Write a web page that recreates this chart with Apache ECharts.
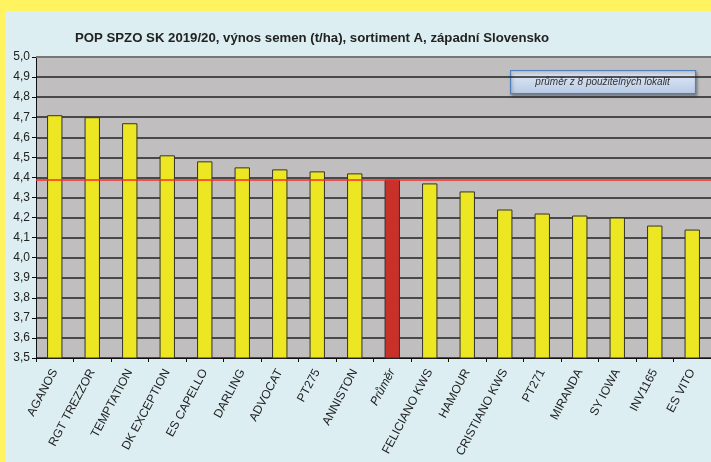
<!DOCTYPE html>
<html>
<head>
<meta charset="utf-8">
<script src="https://cdn.jsdelivr.net/npm/echarts@6/dist/echarts.min.js"></script>
<style>
  html, body { margin: 0; padding: 0; background: #FFF35F; }
  #wrap { position: absolute; left: 5px; top: 11px; width: 706px; height: 451px; background: #DCEEF2; }
  #chart { position: absolute; left: -5px; top: -11px; width: 711px; height: 462px; }
</style>
</head>
<body>
<div id="wrap"><div id="chart"></div></div>
<script>
// odrody
var varieties = ['AGANOS', 'RGT TREZZOR', 'TEMPTATION', 'DK EXCEPTION', 'ES CAPELLO', 'DARLING',
    'ADVOCAT', 'PT275', 'ANNISTON', 'Průměr', 'FELICIANO KWS', 'HAMOUR', 'CRISTIANO KWS',
    'PT271', 'MIRANDA', 'SY IOWA', 'INV1165', 'ES VITO'];
// výnos t/ha
var yields = [4.71, 4.70, 4.67, 4.51, 4.48, 4.45, 4.44, 4.43, 4.42, 4.39, 4.37, 4.33, 4.24,
    4.22, 4.21, 4.20, 4.16, 4.14];
var average = 4.39;
var avgLabel = 'průměr z 8 použitelných lokalit';

var myChart = echarts.init(document.getElementById('chart'));

var barData = [];
for (var i = 0; i < varieties.length; i++) {
    var item = { value: yields[i] };
    if (varieties[i] === 'Průměr') {
        item.itemStyle = { color: '#C8302A' };
    }
    barData.push(item);
}

var option = {
    backgroundColor: 'transparent',
    animation: false,
    title: {
        text: 'POP SPZO SK 2019/20, výnos semen (t/ha), sortiment A, západní Slovensko',
        left: 70,
        top: 27,
        textStyle: { fontFamily: 'Liberation Sans', fontSize: 13.2, fontWeight: 'bold', color: '#222' }
    },
    grid: { left: 36, right: 0, top: 57, bottom: 104, show: true, backgroundColor: '#C0BEBE', borderWidth: 0 },
    xAxis: {
        type: 'category',
        data: varieties,
        axisLine: { lineStyle: { color: '#111', width: 1 } },
        axisTick: { show: true, length: 4, lineStyle: { color: '#111' } },
        axisLabel: {
            rotate: 62,
            interval: 0,
            margin: 12,
            fontFamily: 'Liberation Sans',
            fontSize: 12,
            color: '#222',
            formatter: function (v) {
                return v === 'Průměr' ? '{it|' + v + '}' : v;
            },
            rich: { it: { fontStyle: 'italic', fontFamily: 'Liberation Sans', fontSize: 12, color: '#222' } }
        }
    },
    yAxis: {
        type: 'value',
        min: 3.5,
        max: 5.0,
        interval: 0.1,
        axisLine: { show: true, lineStyle: { color: '#111' } },
        axisTick: { show: true, length: 4, lineStyle: { color: '#111' } },
        axisLabel: {
            margin: 6,
            fontFamily: 'Liberation Sans',
            fontSize: 12,
            color: '#222',
            formatter: function (v) { return v.toFixed(1).replace('.', ','); }
        },
        splitLine: { lineStyle: { color: '#222', width: 1.5 } }
    },
    series: [{
        type: 'bar',
        data: barData,
        barWidth: '41%',
        itemStyle: { color: '#EDE622', borderColor: '#333', borderWidth: 1 },
        markLine: {
            silent: true,
            symbol: 'none',
            label: { show: false },
            lineStyle: { color: '#FF2A2A', width: 1.5, type: 'solid' },
            data: [{ yAxis: average }]
        }
    }],
    graphic: [
        { type: 'line', shape: { x1: 36, y1: 57, x2: 711, y2: 57 }, style: { stroke: '#777', lineWidth: 2 }, z: 10 },
        {
            type: 'group', left: 510, top: 70, z: 20,
            children: [
                {
                    type: 'rect',
                    shape: { x: 0, y: 0, width: 185, height: 23 },
                    style: {
                        fill: new echarts.graphic.LinearGradient(0, 0, 0, 1, [
                            { offset: 0, color: '#E3EAF6' }, { offset: 1, color: '#B8CAE6' }
                        ]),
                        stroke: '#4F81BD', lineWidth: 1.2,
                        shadowBlur: 3, shadowOffsetX: 1, shadowOffsetY: 2, shadowColor: 'rgba(0,0,0,0.35)'
                    }
                },
                {
                    type: 'text',
                    x: 92, y: 12,
                    style: {
                        text: avgLabel, align: 'center', verticalAlign: 'middle',
                        fontFamily: 'Liberation Sans', fontSize: 10, fontStyle: 'italic', fill: '#333'
                    }
                }
            ]
        }
    ]
};

myChart.setOption(option);
</script>
</body>
</html>
